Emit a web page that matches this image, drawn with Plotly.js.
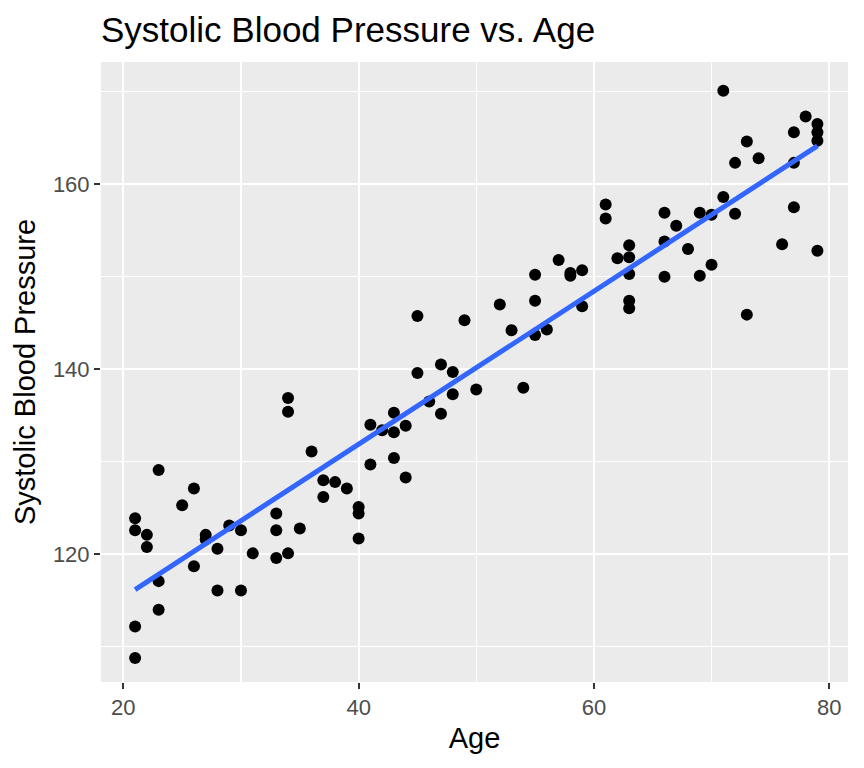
<!DOCTYPE html>
<html><head><meta charset="utf-8">
<script src="https://cdn.plot.ly/plotly-3.0.1.min.js"></script>
<style>html,body{margin:0;padding:0;background:#fff}#chart{width:864px;height:768px}</style>
</head><body><div id="chart"></div>
<script>
const age = [21,21,21,21,22,22,23,23,23,25,26,26,27,27,28,28,29,30,30,31,33,33,33,34,34,34,35,36,37,37,38,39,40,40,40,41,41,42,43,43,43,44,44,45,45,46,47,47,48,48,49,50,52,53,54,55,55,55,56,57,58,58,59,59,61,61,62,63,63,63,63,63,66,66,66,67,68,69,69,70,70,71,71,72,72,73,73,74,76,77,77,77,78,79,79,79,79];
const sbp = [123.9,122.6,112.2,108.8,122.1,120.8,129.1,117.1,114.0,125.3,127.1,118.7,122.1,121.6,120.6,116.1,123.1,122.6,116.1,120.1,124.4,122.6,119.6,120.1,136.9,135.4,122.8,131.1,128.0,126.2,127.8,127.1,125.1,124.4,121.7,134.0,129.7,133.4,135.3,133.2,130.4,133.9,128.3,139.6,145.75,136.5,140.5,135.2,139.7,137.3,145.3,137.8,147.0,144.2,138.0,150.2,147.4,143.7,144.3,151.8,150.4,150.1,150.7,146.8,157.8,156.3,152.0,153.4,152.1,150.3,147.4,146.6,156.9,153.8,150.0,155.5,153.0,156.9,150.1,156.7,151.3,170.1,158.6,162.3,156.8,164.6,145.9,162.8,153.5,165.6,162.3,157.5,167.3,166.5,165.6,164.7,152.8];
const xTicks = [20,40,60,80];
const yTicks = [120,140,160];

// least-squares fit line (geom_smooth method = "lm")
const n = age.length;
const mx = age.reduce((a,b)=>a+b,0)/n, my = sbp.reduce((a,b)=>a+b,0)/n;
let sxy=0, sxx=0;
for (let i=0;i<n;i++){ sxy+=(age[i]-mx)*(sbp[i]-my); sxx+=(age[i]-mx)**2; }
const slope = sxy/sxx, icpt = my - slope*mx;
const xmin = Math.min(...age), xmax = Math.max(...age);
const fitX = [xmin, xmax];
const fitY = fitX.map(x => icpt + slope*x);

const FONT = 'Liberation Sans, Arial, sans-serif';
const traces = [
  {x: age, y: sbp, type:'scatter', mode:'markers', marker:{color:'#000000', size:12}, hoverinfo:'x+y'},
  {x: fitX, y: fitY, type:'scatter', mode:'lines', line:{color:'#3366FF', width:5}, hoverinfo:'skip'}
];
const axisCommon = {
  showgrid:true, gridcolor:'#FFFFFF', gridwidth:2.2, zeroline:false, showline:false,
  ticks:'outside', ticklen:6, tickwidth:2, tickcolor:'#333333',
  tickfont:{family:FONT, size:22, color:'#4D4D4D'},
  tickmode:'array'
};
const layout = {
  width:864, height:768,
  margin:{l:101, r:16, t:62, b:86},
  paper_bgcolor:'#FFFFFF', plot_bgcolor:'#EBEBEB',
  showlegend:false,
  title:{text:'Systolic Blood Pressure vs. Age', font:{family:FONT, size:35, color:'#000000'},
         xref:'paper', x:0, xanchor:'left', yref:'container', y:1-30/768, yanchor:'middle'},
  xaxis: Object.assign({}, axisCommon, {
    range:[18.1, 81.6], tickvals:xTicks, ticktext:xTicks.map(String),
    minor:{tickmode:'array', tickvals:[30,50,70], showgrid:true, gridcolor:'#FFFFFF', gridwidth:1.1, ticks:''},
    title:{text:'Age', font:{family:FONT, size:29, color:'#000000'}, standoff:8}
  }),
  yaxis: Object.assign({}, axisCommon, {
    range:[106.2, 173.2], tickvals:yTicks, ticktext:yTicks.map(String),
    minor:{tickmode:'array', tickvals:[110,130,150,170], showgrid:true, gridcolor:'#FFFFFF', gridwidth:1.1, ticks:''},
    title:{text:'Systolic Blood Pressure', font:{family:FONT, size:29, color:'#000000'}, standoff:8}
  })
};
Plotly.newPlot('chart', traces, layout, {staticPlot:true, displayModeBar:false});
</script></body></html>
